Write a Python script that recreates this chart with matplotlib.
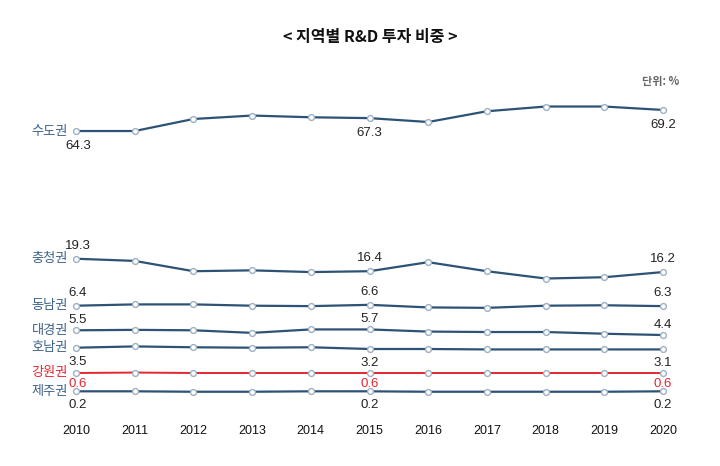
import matplotlib
matplotlib.use('Agg')
import matplotlib.pyplot as plt

KR = ['Noto Sans CJK KR', 'DejaVu Sans']
NUM = ['Liberation Sans', 'DejaVu Sans']

years = [2010, 2011, 2012, 2013, 2014, 2015, 2016, 2017, 2018, 2019, 2020]
regions = ['수도권', '충청권', '동남권', '대경권', '호남권', '강원권', '제주권']

sudo = [64.3, 64.3, 67.1, 67.9, 67.5, 67.3, 66.4, 68.9, 70.0, 70.0, 69.2]
chungcheong = [19.3, 18.8, 16.4, 16.6, 16.2, 16.4, 18.5, 16.4, 14.7, 15.0, 16.2]
dongnam = [6.4, 6.7, 6.7, 6.4, 6.3, 6.6, 6.0, 5.9, 6.4, 6.5, 6.3]
daegyeong = [5.5, 5.6, 5.5, 4.9, 5.7, 5.7, 5.2, 5.1, 5.1, 4.7, 4.4]
honam = [3.5, 3.8, 3.6, 3.5, 3.6, 3.2, 3.2, 3.1, 3.1, 3.1, 3.1]
gangwon = [0.6, 0.7, 0.6, 0.6, 0.6, 0.6, 0.6, 0.6, 0.6, 0.6, 0.6]
jeju = [0.2, 0.2, 0.1, 0.1, 0.2, 0.2, 0.1, 0.1, 0.1, 0.1, 0.2]

series = [sudo, chungcheong, dongnam, daegyeong, honam, gangwon, jeju]

# vertical offset of each line (chart is not to scale between regions)
offsets = [13.6, 28.9, 30.88, 26.06, 24.01, 21.03, 17.17]
# pixel offset of the value labels (negative = below the line)
label_dy = [-15, 13, 13, 10, -14, -11, -14]
label_years = [2010, 2015, 2020]

BLUE = '#2c5275'
NAME_BLUE = '#3d6189'
RED = '#e32630'

fig = plt.figure(figsize=(7.2, 4.66), dpi=100)
ax = fig.add_axes([0, 0, 1, 1])
ax.set_xlim(2008.705, 2020.971)
ax.set_ylim(0, 466 / 4.3)
ax.axis('off')

for name, vals, off, dy in zip(regions, series, offsets, label_dy):
    color = RED if name == '강원권' else BLUE
    ys = [v + off for v in vals]
    ax.plot(years, ys, color=color, lw=1.6 if name != '강원권' else 1.4,
            marker='o', ms=4.2, mfc='white', mec='#9db0c4', mew=1, zorder=3)
    ax.annotate(name, (years[0], ys[0]), xytext=(-8, 0), textcoords='offset pixels',
                ha='right', va='center', fontsize=9.5, family=KR,
                color=RED if name == '강원권' else NAME_BLUE)
    for yr in label_years:
        i = years.index(yr)
        ax.annotate(f'{vals[i]:.1f}', (yr, ys[i]), xytext=(2 if yr == 2010 else 0, dy),
                    textcoords='offset pixels', ha='center', va='center',
                    fontsize=9.5, family=NUM,
                    color=RED if name == '강원권' else '#222222')

for yr in years:
    ax.text(yr, (466 - 431) / 4.3, str(yr), ha='center', va='center',
            fontsize=9, family=NUM, color='#111111')

fig.text(0.514, 1 - 37 / 466, '< 지역별 R&D 투자 비중 >', ha='center', va='center',
         fontsize=11.5, fontweight='bold', family=KR, color='#111111')
fig.text(0.917, 1 - 82 / 466, '단위: %', ha='center', va='center',
         fontsize=8, fontweight='bold', family=KR, color='#666666')

fig.savefig('out.png', dpi=100)
